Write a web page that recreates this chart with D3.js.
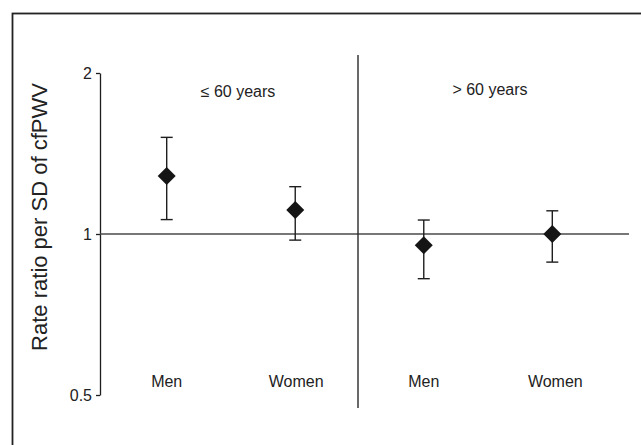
<!DOCTYPE html>
<html>
<head>
<meta charset="utf-8">
<script src="https://cdn.jsdelivr.net/npm/d3@7/dist/d3.min.js"></script>
<style>
  html, body { margin: 0; padding: 0; background: #fff; }
  svg { display: block; font-family: "Liberation Sans", Arial, sans-serif; }
</style>
</head>
<body>
<svg id="chart" width="641" height="445"></svg>
<script>
// Data
const groups = ["≤ 60 years", "> 60 years"];
const categories = ["Men", "Women", "Men", "Women"];
const groupOf = [0, 0, 1, 1];
const estimates = [1.284, 1.109, 0.953, 1.0];
const lower = [1.064, 0.974, 0.825, 0.886];
const upper = [1.516, 1.226, 1.062, 1.105];
const yTicks = [0.5, 1, 2];
const yTickLabels = ["0.5", "1", "2"];
const yLabel = "Rate ratio per SD of cfPWV";

const svg = d3.select("#chart");
const ink = "#1e1e1e";

// Frame
svg.append("rect")
  .attr("x", 12.5).attr("y", 13.5)
  .attr("width", 700).attr("height", 500)
  .attr("fill", "none").attr("stroke", "#222").attr("stroke-width", 1.8);

const y = d3.scaleLog().domain([0.5, 2]).range([395, 73]);
const x = d3.scaleLinear().domain([0, 3]).range([166.7, 552.3]);

// Y axis
const yAxis = d3.axisLeft(y)
  .tickValues(yTicks)
  .tickFormat((d, i) => yTickLabels[i])
  .tickSize(4)
  .tickSizeOuter(0);
const gy = svg.append("g").attr("transform", "translate(100,0)").call(yAxis);
gy.select(".domain").attr("stroke", ink).attr("stroke-width", 1.3);
gy.selectAll(".tick line").attr("stroke", ink).attr("stroke-width", 1.3);
gy.selectAll(".tick text")
  .attr("font-size", 16).attr("fill", "#222")
  .attr("font-family", "'Liberation Sans', Arial, sans-serif")
  .attr("x", -8);

// Y label
svg.append("text")
  .attr("transform", `translate(47,217) rotate(-90)`)
  .attr("text-anchor", "middle")
  .attr("font-size", 22).attr("fill", "#222")
  .text(yLabel);

// Reference line at 1
svg.append("line")
  .attr("x1", 100).attr("x2", 629)
  .attr("y1", y(1)).attr("y2", y(1))
  .attr("stroke", "#4a4a4a").attr("stroke-width", 1.4);

// Divider
svg.append("line")
  .attr("x1", 358).attr("x2", 358)
  .attr("y1", 55).attr("y2", 408)
  .attr("stroke", "#2a2a2a").attr("stroke-width", 1.4);

// Group labels
const groupCenters = [238, 490];
const groupBaselines = [97, 95];
svg.selectAll("text.group").data(groups).enter().append("text")
  .attr("class", "group")
  .attr("x", (d, i) => groupCenters[i])
  .attr("y", (d, i) => groupBaselines[i])
  .attr("text-anchor", "middle")
  .attr("font-size", 16).attr("fill", "#222")
  .text(d => d);

// Category labels
svg.selectAll("text.cat").data(categories).enter().append("text")
  .attr("class", "cat")
  .attr("x", (d, i) => x(i) + (i === 1 ? 1 : i === 3 ? 3 : 0))
  .attr("y", 387)
  .attr("text-anchor", "middle")
  .attr("font-size", 16).attr("fill", "#222")
  .text(d => d);

// Error bars
const idx = d3.range(estimates.length);
const eb = svg.append("g").attr("stroke", ink).attr("stroke-width", 1.4);
eb.selectAll("line.v").data(idx).enter().append("line")
  .attr("x1", i => x(i)).attr("x2", i => x(i))
  .attr("y1", i => y(lower[i])).attr("y2", i => y(upper[i]));
eb.selectAll("line.cu").data(idx).enter().append("line")
  .attr("x1", i => x(i) - 6).attr("x2", i => x(i) + 6)
  .attr("y1", i => y(upper[i])).attr("y2", i => y(upper[i]));
eb.selectAll("line.cl").data(idx).enter().append("line")
  .attr("x1", i => x(i) - 6).attr("x2", i => x(i) + 6)
  .attr("y1", i => y(lower[i])).attr("y2", i => y(lower[i]));

// Diamonds
const r = 9;
svg.selectAll("path.pt").data(idx).enter().append("path")
  .attr("class", "pt")
  .attr("d", i => {
    const cx = x(i), cy = y(estimates[i]);
    return `M${cx},${cy - r}L${cx + r},${cy}L${cx},${cy + r}L${cx - r},${cy}Z`;
  })
  .attr("fill", "#151515");
</script>
</body>
</html>
